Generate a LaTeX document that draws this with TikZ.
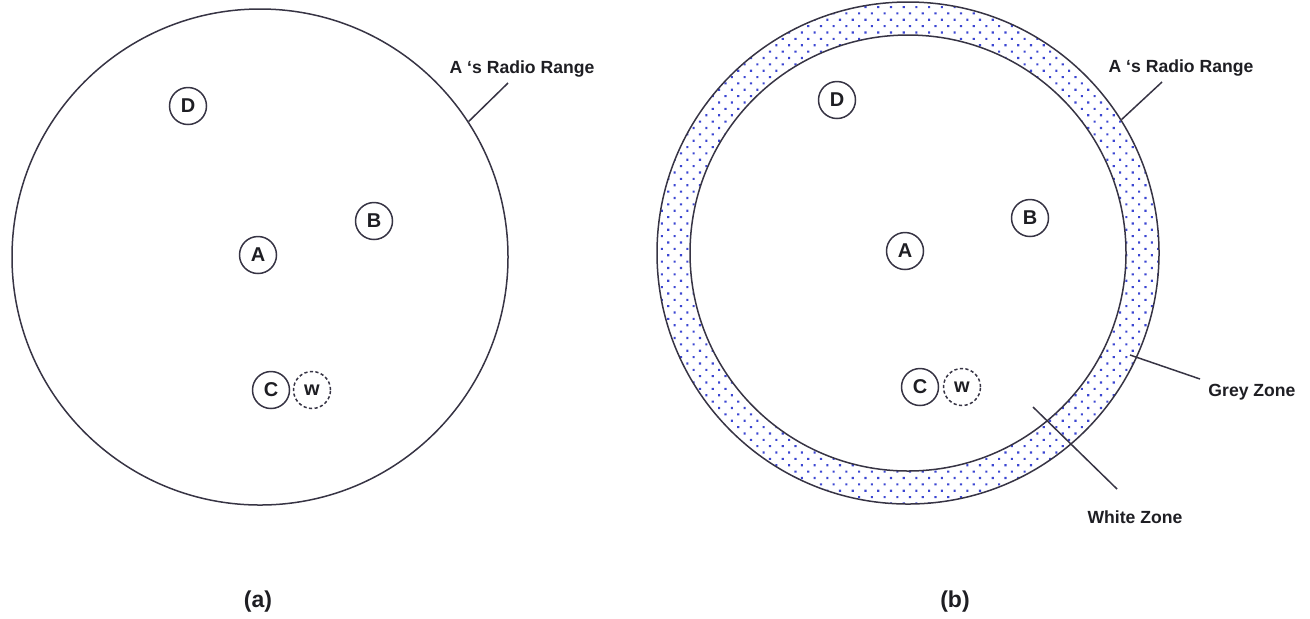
\documentclass[tikz,border=0pt]{standalone}
\usepackage{fontspec}
\setmainfont{Liberation Sans}
\usetikzlibrary{patterns.meta}
\usepackage{xcolor}
\definecolor{zline}{RGB}{55, 52, 68}
\definecolor{zdot}{RGB}{60, 70, 210}
\definecolor{ztext}{RGB}{30, 30, 35}

\begin{document}
\begin{tikzpicture}[x=0.5pt, y=-0.5pt,
  station/.style={circle, draw=zline, line width=0.75pt, minimum size=18.5pt,
                  inner sep=0pt, text=ztext, font=\fontsize{10}{11}\selectfont\bfseries},
  ghost/.style={station, dash pattern=on 1.6pt off 1.2pt},
  rangebox/.style={circle, draw=zline, line width=0.75pt, inner sep=0pt},
  lbl/.style={font=\fontsize{8.8}{10}\selectfont\bfseries, text=ztext},
  capbox/.style={font=\fontsize{11.5}{12}\selectfont\bfseries, text=ztext},
  lead/.style={zline, line width=0.75pt}
]
\useasboundingbox (0,0) rectangle (1310,618);

% (a) plain radio range
\node[rangebox, minimum size=248pt] (rngA) at (260,257) {};
\node[station] (dA) at (188,106) {D};
\node[station] (bA) at (374,221) {B};
\node[station] (aA) at (258,255) {A};
\node[station] (cA) at (271,390) {C};
\node[ghost]   (wA) at (312,390) {w};

\node[lbl] (rlA) at (522,69) {A `s Radio Range};
\coordinate (rlAend) at (508,83);
\draw[lead] (rngA.33) -- (rlAend);

\node[capbox] (capA) at (258,602) {(a)};

% (b) radio range with grey zone
\fill[pattern={Dots[distance=4.5pt, angle=45, radius=0.75pt]}, pattern color=zdot, even odd rule]
  (908,253) circle[radius=125.5pt] (908,253) circle[radius=109pt];
\node[rangebox, minimum size=251pt] (rngB) at (908,253) {};
\node[rangebox, minimum size=218pt] (innB) at (908,253) {};

\node[station] (dB) at (837,100) {D};
\node[station] (bB) at (1030,218) {B};
\node[station] (aB) at (905,251) {A};
\node[station] (cB) at (920,387) {C};
\node[ghost]   (wB) at (962,387) {w};

\node[lbl] (rlB) at (1181,68) {A `s Radio Range};
\coordinate (rlBend) at (1162,82);
\draw[lead] (rngB.32) -- (rlBend);

\node[lbl] (grey) at (1252,392) {Grey Zone};
\coordinate (greyin) at (1130,355);
\coordinate (greyend) at (1200,379);
\draw[lead] (greyin) -- (greyend);

\node[lbl] (white) at (1135,517) {White Zone};
\coordinate (whitein) at (1033,407);
\coordinate (whiteend) at (1117,489);
\draw[lead] (whitein) -- (whiteend);

\node[capbox] (capB) at (955,602) {(b)};

\end{tikzpicture}
\end{document}
